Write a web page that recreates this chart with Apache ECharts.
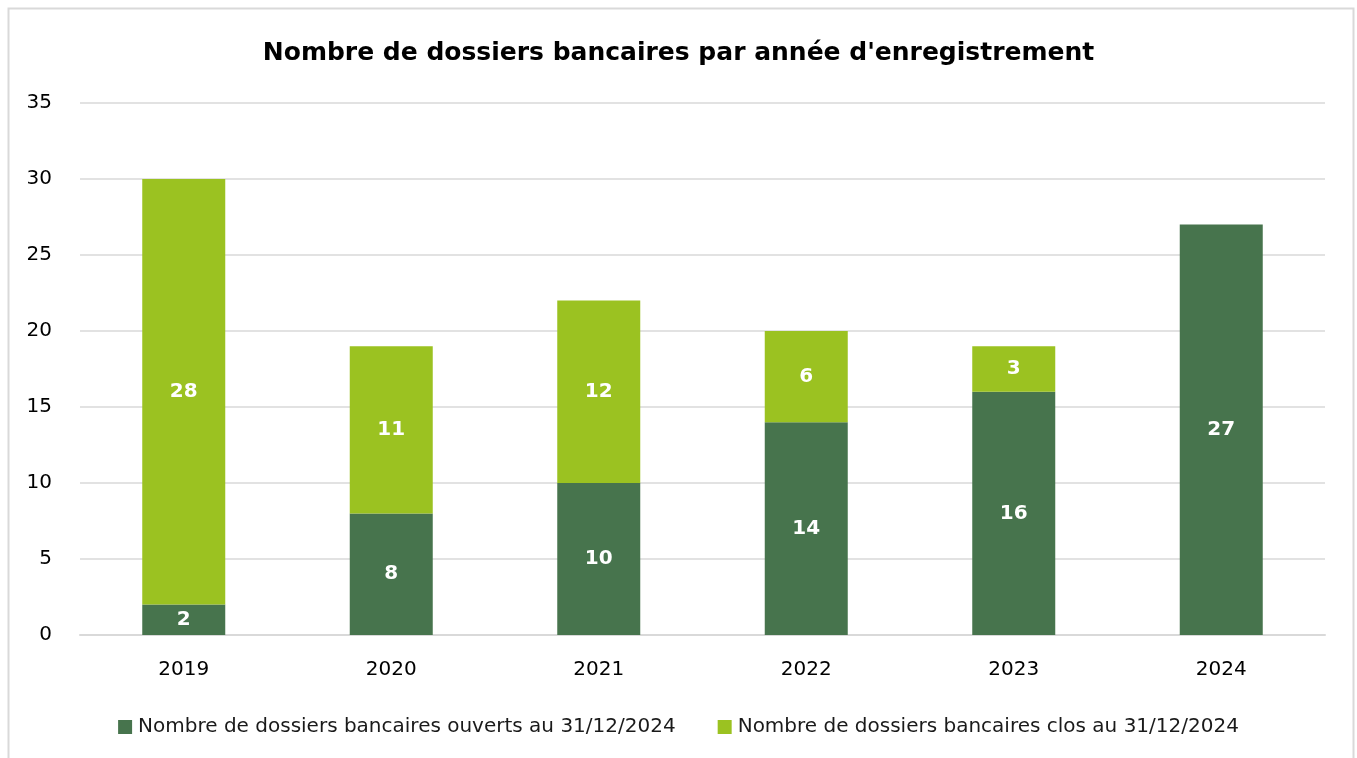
<!DOCTYPE html>
<html><head><meta charset="utf-8">
<script src="https://cdn.jsdelivr.net/npm/echarts@6/dist/echarts.min.js"></script>
<style>html,body{margin:0;padding:0;background:#fff}#c{width:1357px;height:758px}</style>
</head><body><div id="c"></div>
<script>
const categories = ['2019','2020','2021','2022','2023','2024'];
const ouverts = [2, 8, 10, 14, 16, 27];
const clos = [28, 11, 12, 6, 3, 0];
const seriesNames = ['Nombre de dossiers bancaires ouverts au 31/12/2024','Nombre de dossiers bancaires clos au 31/12/2024'];
const yTicks = {min: 0, max: 35, interval: 5};

const FONT = '"DejaVu Sans", sans-serif';
const chart = echarts.init(document.getElementById('c'), null, {renderer: 'canvas'});
const lbl = {
  show: true, position: 'inside', color: '#fff', fontWeight: 'bold', fontSize: 20, fontFamily: FONT,
  formatter: p => p.value ? p.value : ''
};
chart.setOption({
  animation: false,
  graphic: [{type: 'rect', shape: {x: 8.5, y: 8.5, width: 1345, height: 770}, style: {fill: 'none', stroke: '#d9d9d9', lineWidth: 2}}],
  title: {text: "Nombre de dossiers bancaires par année d'enregistrement", left: 'center', top: 36,
    textStyle: {fontFamily: FONT, fontWeight: 'bold', fontSize: 25, color: '#000'}},
  legend: {bottom: 16, left: 'center', itemWidth: 14, itemHeight: 14, itemGap: 42, icon: 'rect',
    textStyle: {fontFamily: FONT, fontSize: 20, color: '#1a1a1a', padding: [0,0,0,1]}},
  grid: {left: 80, right: 32, top: 103, bottom: 123, containLabel: false},
  xAxis: {type: 'category', data: categories,
    axisLine: {lineStyle: {color: '#d9d9d9', width: 2}}, axisTick: {show: false},
    axisLabel: {fontFamily: FONT, fontSize: 20, color: '#000', margin: 25}},
  yAxis: {type: 'value', min: yTicks.min, max: yTicks.max, interval: yTicks.interval,
    axisLine: {show: false}, axisTick: {show: false},
    splitLine: {lineStyle: {color: '#d9d9d9', width: 1.5}},
    axisLabel: {fontFamily: FONT, fontSize: 20, color: '#000', margin: 28, align: 'right'}},
  series: [
    {name: seriesNames[0], type: 'bar', stack: 't', data: ouverts, barWidth: '40%', itemStyle: {color: '#47744d'}, label: lbl},
    {name: seriesNames[1], type: 'bar', stack: 't', data: clos, barWidth: '40%', itemStyle: {color: '#9bc221'}, label: lbl}
  ]
});
</script></body></html>
